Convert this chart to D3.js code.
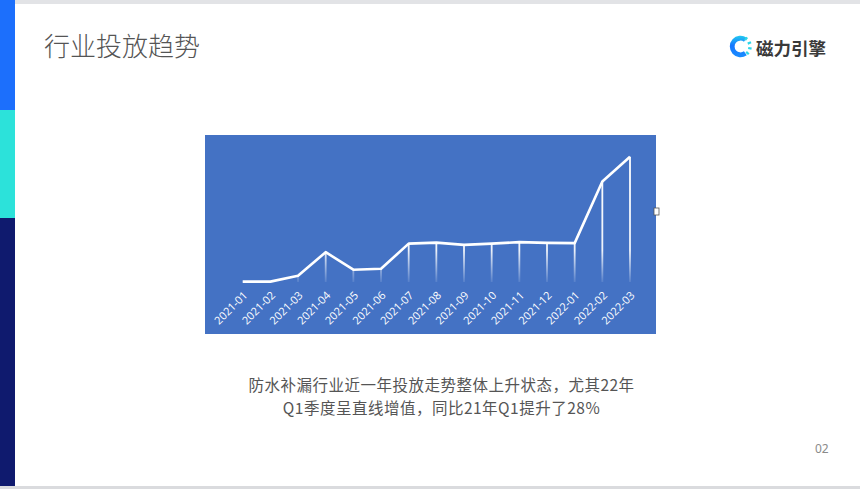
<!DOCTYPE html>
<html><head><meta charset="utf-8">
<script src="https://cdn.jsdelivr.net/npm/d3@7"></script>
<style>
html,body{margin:0;padding:0;background:#fff;}
svg{display:block;}
</style></head>
<body>
<svg id="c" width="860" height="489"></svg>
<script>
const months = ["2021-01","2021-02","2021-03","2021-04","2021-05","2021-06","2021-07","2021-08","2021-09","2021-10","2021-11","2021-12","2022-01","2022-02","2022-03"];
const values = [0.3,0.3,5.0,23.8,9.8,10.6,30.6,31.4,29.6,30.6,31.8,31.2,31.0,80.2,100];
const titleText = "行业投放趋势";
const brandText = "磁力引擎";
const captionLines = ["防水补漏行业近一年投放走势整体上升状态，尤其22年","Q1季度呈直线增值，同比21年Q1提升了28%"];
const pageNo = "02";

const svg = d3.select("#c");
const cjk = "'Noto Sans CJK SC','Noto Sans',sans-serif";

// frame decorations
svg.append("rect").attr("x",15).attr("y",0).attr("width",845).attr("height",4).attr("fill","#e2e3e6");
svg.append("rect").attr("x",0).attr("y",486).attr("width",860).attr("height",3).attr("fill","#dadbde");
svg.append("rect").attr("x",0).attr("y",0).attr("width",15).attr("height",110).attr("fill","#1c6ffc");
svg.append("rect").attr("x",0).attr("y",110).attr("width",15).attr("height",108).attr("fill","#2ce2da");
svg.append("rect").attr("x",0).attr("y",218).attr("width",15).attr("height",268).attr("fill","#0f1a6e");

// title
svg.append("text").attr("x",44).attr("y",56).attr("font-family",cjk).attr("font-size",26)
  .attr("font-weight",300).attr("fill","#555").text(titleText);

// logo
const defs = svg.append("defs");
const lg = defs.append("linearGradient").attr("id","lg").attr("x1","0").attr("y1","0").attr("x2","0").attr("y2","1");
lg.append("stop").attr("offset","0").attr("stop-color","#22c8f0");
lg.append("stop").attr("offset","0.45").attr("stop-color","#1677ff");
lg.append("stop").attr("offset","1").attr("stop-color","#1a8cff");
const lc = {x:740.5,y:46.5,r:8.3};
const arc = d3.arc().innerRadius(lc.r-2.4).outerRadius(lc.r+2.4);
svg.append("path").attr("transform",`translate(${lc.x},${lc.y})`)
  .attr("d",arc({startAngle:Math.PI*0.8,endAngle:Math.PI*2.2})).attr("fill","url(#lg)");
[ -0.30, -0.12, 0.06, 0.24].forEach(t=>{
  const ang = t*Math.PI;
  const x1 = lc.x + Math.cos(ang)*(lc.r-0.5), y1 = lc.y + Math.sin(ang)*(lc.r-0.5);
  const x2 = lc.x + Math.cos(ang)*(lc.r+3), y2 = lc.y + Math.sin(ang)*(lc.r+3);
  svg.append("line").attr("x1",x1).attr("y1",y1).attr("x2",x2).attr("y2",y2)
    .attr("stroke","#2cd6e8").attr("stroke-width",2.2);
});
svg.append("text").attr("x",756).attr("y",55).attr("font-family",cjk).attr("font-size",17.5)
  .attr("font-weight",700).attr("fill","#3a3a3a").text(brandText);

// chart panel
const P = {x:205,y:135,w:451,h:199};
svg.append("rect").attr("x",P.x).attr("y",P.y).attr("width",P.w).attr("height",P.h).attr("fill","#4472c4");
svg.append("rect").attr("x",654).attr("y",208).attr("width",5).attr("height",7).attr("fill","#fff").attr("stroke","#555").attr("stroke-width",0.8);

const x = d3.scalePoint().domain(months).range([242.7,630]);
const y = d3.scaleLinear().domain([0,100]).range([282,156.7]);

const dg = defs.append("linearGradient").attr("id","dg").attr("gradientUnits","userSpaceOnUse")
  .attr("x1",0).attr("y1",156).attr("x2",0).attr("y2",282);
dg.append("stop").attr("offset","0").attr("stop-color","#fff").attr("stop-opacity",1);
dg.append("stop").attr("offset","0.75").attr("stop-color","#fff").attr("stop-opacity",0.9);
dg.append("stop").attr("offset","1").attr("stop-color","#fff").attr("stop-opacity",0.1);

const data = months.map((m,i)=>({m,v:values[i]}));
svg.append("g").selectAll("rect").data(data).join("rect")
  .attr("x",d=>x(d.m)-0.9).attr("width",1.8)
  .attr("y",d=>y(d.v)).attr("height",d=>Math.max(0,y(0)-y(d.v)))
  .attr("fill","url(#dg)");

svg.append("path").datum(data)
  .attr("d",d3.line().x(d=>x(d.m)).y(d=>y(d.v)))
  .attr("fill","none").attr("stroke","#fff").attr("stroke-width",2.6).attr("stroke-linejoin","round");

const ax = d3.axisBottom(x).tickSize(0).tickPadding(0);
const axg = svg.append("g").attr("transform",`translate(0,${y(0)})`).call(ax);
axg.select(".domain").remove();
axg.selectAll("text")
  .attr("font-family","'Open Sans','Noto Sans',sans-serif").attr("font-size",11).attr("fill","#fff")
  .attr("text-anchor","end").attr("dy",0).attr("y",0)
  .attr("transform","translate(5,14) rotate(-45)");

// caption
svg.append("g").selectAll("text").data(captionLines).join("text")
  .attr("x",441.5).attr("y",(d,i)=>391+i*22.5).attr("text-anchor","middle")
  .attr("font-family",cjk).attr("font-size",15.5).attr("letter-spacing",0.5)
  .attr("fill","#555").text(d=>d);

svg.append("text").attr("x",815).attr("y",453).attr("font-family","'Noto Sans',sans-serif")
  .attr("font-size",12).attr("fill","#8a8a8a").text(pageNo);
</script>
</body></html>
